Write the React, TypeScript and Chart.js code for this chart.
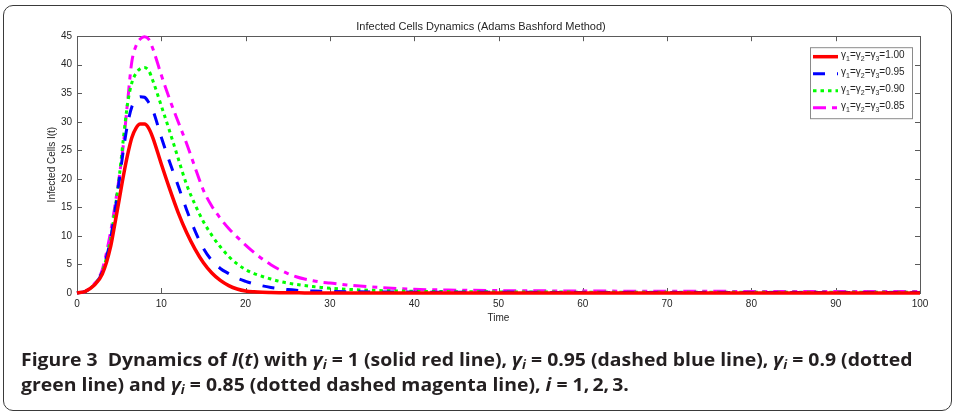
import React, { useEffect, useLayoutEffect, useRef } from "react";
import { Chart, registerables } from "chart.js";

Chart.register(...registerables);

// ---- data ----
const TIME = [
  0, 1, 2, 3, 4, 4.5, 5, 5.5, 6, 6.5, 7, 7.5, 8, 8.5, 9,
  10, 11, 12, 13, 14, 15, 16, 17, 18, 19, 20, 21, 22, 23, 24, 25, 26, 27, 28, 29, 30,
  32, 35, 40, 45, 50, 60, 70, 80, 90, 100,
];

const I_G100 = [
  0, 0.3, 1.3, 3.3, 8.2, 12.2, 16.3, 20.5, 24.2, 27.2, 28.9, 29.6, 29.6, 28.9, 27.2,
  22.6, 18.2, 14.1, 10.6, 7.7, 5.3, 3.5, 2.2, 1.3, 0.7, 0.35, 0.2, 0.12, 0.08, 0.05, 0.04, 0.03, 0.02, 0.02, 0.01, 0.01,
  0.01, 0, 0, 0, 0, 0, 0, 0, 0, 0,
];

const I_G095 = [
  0, 0.3, 1.4, 3.7, 9.6, 14.2, 19.6, 25, 29.6, 32.6, 33.9, 34.4, 34.3, 33.4, 32,
  27.3, 22.9, 18.8, 14.6, 10.9, 7.8, 5.7, 4.3, 3.4, 2.6, 2.05, 1.6, 1.25, 0.97, 0.76, 0.6, 0.48, 0.4, 0.34, 0.3, 0.27,
  0.23, 0.19, 0.15, 0.13, 0.12, 0.1, 0.1, 0.1, 0.1, 0.1,
];

const I_G090 = [
  0, 0.3, 1.4, 3.7, 9.6, 14.5, 20.2, 27, 33.2, 36.8, 38.5, 39.3, 39.5, 39.0, 37.2,
  32.8, 28.3, 23.6, 19.0, 15.5, 12.5, 10.1, 8.1, 6.4, 5.1, 4.1, 3.4, 2.9, 2.45, 2.05, 1.75, 1.5, 1.3, 1.12, 0.97, 0.85,
  0.65, 0.46, 0.3, 0.23, 0.19, 0.15, 0.14, 0.13, 0.13, 0.12,
];

const I_G085 = [
  0, 0.3, 1.5, 4.1, 10.8, 15.3, 20.2, 26, 33.5, 40.5, 43.3, 44.5, 44.9, 44.5, 42.8,
  38.2, 33.9, 30.0, 26.2, 22.0, 18.0, 15.2, 13.1, 11.3, 9.8, 8.4, 7.1, 5.95, 4.95, 4.1, 3.4, 2.85, 2.45, 2.15, 1.9, 1.75,
  1.4, 1.05, 0.65, 0.5, 0.42, 0.35, 0.3, 0.28, 0.26, 0.25,
];

const SERIES_LABELS = [
  "γ₁=γ₂=γ₃=1.00",
  "γ₁=γ₂=γ₃=0.95",
  "γ₁=γ₂=γ₃=0.90",
  "γ₁=γ₂=γ₃=0.85",
];

const CHART_TITLE = "Infected Cells Dynamics (Adams Bashford Method)";
const X_TITLE = "Time";
const Y_TITLE = "Infected Cells I(t)";
const X_MIN = 0, X_MAX = 100, X_STEP = 10;
const Y_MIN = 0, Y_MAX = 45, Y_STEP = 5;

const SANS = '"Liberation Sans", Arial, Helvetica, sans-serif';
const AXIS_COLOR = "#262626";

const SUBS: Record<string, string> = { "₀": "0", "₁": "1", "₂": "2", "₃": "3", "₄": "4", "₅": "5", "₆": "6", "₇": "7", "₈": "8", "₉": "9" };

function drawRich(ctx: CanvasRenderingContext2D, text: string, x: number, y: number) {
  let cx = x;
  for (const ch of Array.from(text)) {
    if (SUBS[ch]) {
      ctx.font = `7px ${SANS}`;
      ctx.fillText(SUBS[ch], cx, y + 3);
      cx += ctx.measureText(SUBS[ch]).width;
    } else {
      ctx.font = `10px ${SANS}`;
      ctx.fillText(ch, cx, y);
      cx += ctx.measureText(ch).width;
    }
  }
}

const boxPlugin = {
  id: "matlabBox",
  beforeDatasetsDraw(chart: any) {
    const { ctx, chartArea: a, scales } = chart;
    ctx.save();
    ctx.strokeStyle = "#5a5a5a";
    ctx.lineWidth = 1;
    ctx.strokeRect(Math.round(a.left) + 0.5, Math.round(a.top) + 0.5, Math.round(a.right - a.left), Math.round(a.bottom - a.top));
    const L = 5;
    ctx.beginPath();
    scales.x.ticks.forEach((_: any, i: number) => {
      const px = Math.round(scales.x.getPixelForTick(i)) + 0.5;
      ctx.moveTo(px, a.bottom); ctx.lineTo(px, a.bottom - L);
      ctx.moveTo(px, a.top); ctx.lineTo(px, a.top + L);
    });
    scales.y.ticks.forEach((_: any, i: number) => {
      const py = Math.round(scales.y.getPixelForTick(i)) + 0.5;
      ctx.moveTo(a.left, py); ctx.lineTo(a.left + L, py);
      ctx.moveTo(a.right, py); ctx.lineTo(a.right - L, py);
    });
    ctx.stroke();
    ctx.restore();
  },
};

const legendPlugin = {
  id: "insideLegend",
  afterDatasetsDraw(chart: any) {
    const { ctx, chartArea: a } = chart;
    const ds = chart.data.datasets;
    const right = a.right - 8;
    const left = right - 102;
    const top = a.top + 11;
    const rowH = 17;
    const h = rowH * ds.length + 3;
    ctx.save();
    ctx.fillStyle = "#ffffff";
    ctx.fillRect(left, top, right - left, h);
    ctx.strokeStyle = "#8a8a8a";
    ctx.lineWidth = 1;
    ctx.strokeRect(left + 0.5, top + 0.5, right - left, h);
    ctx.textBaseline = "middle";
    ds.forEach((d: any, i: number) => {
      const y = top + 9.5 + i * rowH;
      ctx.beginPath();
      ctx.strokeStyle = d.borderColor;
      ctx.lineWidth = d.borderWidth;
      ctx.setLineDash(d.borderDash || []);
      ctx.lineCap = "butt";
      ctx.moveTo(left + 3, y);
      ctx.lineTo(left + 28, y);
      ctx.stroke();
      ctx.setLineDash([]);
      ctx.fillStyle = AXIS_COLOR;
      drawRich(ctx, d.label, left + 31, y - 1);
    });
    ctx.restore();
  },
};

function ChartView() {
  const ref = useRef<HTMLCanvasElement | null>(null);
  useEffect(() => {
    if (!ref.current) return;
    const mk = (label: string, data: number[], color: string, dash: number[], width: number) => ({
      label,
      data: TIME.map((t, i) => ({ x: t, y: data[i] })),
      borderColor: color,
      backgroundColor: color,
      borderWidth: width,
      borderDash: dash,
      borderCapStyle: "butt",
      pointRadius: 0,
      cubicInterpolationMode: "monotone",
      fill: false,
      clip: 6,
    });
    const chart = new Chart(ref.current, {
      type: "line",
      data: {
        datasets: [
          mk(SERIES_LABELS[0], I_G100, "#ff0000", [], 3.5),
          mk(SERIES_LABELS[1], I_G095, "#0000ff", [12, 12], 3),
          mk(SERIES_LABELS[2], I_G090, "#00ff00", [3.5, 4], 3),
          mk(SERIES_LABELS[3], I_G085, "#ff00ff", [13, 6, 5, 6], 3),
        ] as any,
      },
      options: {
        animation: false,
        responsive: false,
        devicePixelRatio: 1,
        layout: { padding: { left: 42, right: 35, top: 0, bottom: 0 } },
        plugins: {
          legend: { display: false },
          tooltip: { enabled: false },
          title: {
            display: true,
            text: CHART_TITLE,
            color: AXIS_COLOR,
            font: { family: SANS, size: 11, weight: "normal" as any, lineHeight: 1.2 },
            padding: { top: 20, bottom: 3 },
          },
        },
        scales: {
          x: {
            type: "linear",
            min: X_MIN,
            max: X_MAX,
            grid: { display: false, drawTicks: false },
            border: { display: false },
            ticks: { stepSize: X_STEP, padding: 5, color: AXIS_COLOR, font: { family: SANS, size: 10 }, maxRotation: 0 },
            title: { display: true, text: X_TITLE, color: AXIS_COLOR, font: { family: SANS, size: 10 }, padding: { top: 2, bottom: 4 } },
            afterFit: (s: any) => { s.height = 35; },
          },
          y: {
            min: Y_MIN,
            max: Y_MAX,
            grid: { display: false, drawTicks: false },
            border: { display: false },
            ticks: { stepSize: Y_STEP, padding: 5, color: AXIS_COLOR, font: { family: SANS, size: 10 } },
            title: { display: true, text: Y_TITLE, color: AXIS_COLOR, font: { family: SANS, size: 10 }, padding: { top: 4, bottom: 2 } },
            afterFit: (s: any) => { s.width = 35; },
          },
        },
      } as any,
      plugins: [boxPlugin, legendPlugin],
    });
    return () => chart.destroy();
  }, []);
  return <canvas ref={ref} width={955} height={328} style={{ display: "block", width: 955, height: 328 }} />;
}

const subStyle: React.CSSProperties = { fontSize: "0.68em", verticalAlign: "-0.28em", lineHeight: 0 };

function Caption() {
  const l1 = useRef<HTMLSpanElement | null>(null);
  const l2 = useRef<HTMLSpanElement | null>(null);
  useLayoutEffect(() => {
    const fit = () => {
      if (!l1.current || !l2.current) return;
      l1.current.style.transform = "none";
      l2.current.style.transform = "none";
      const w = l1.current.offsetWidth;
      const s = w > 0 ? 891 / w : 1;
      l1.current.style.transform = `scaleX(${s})`;
      l2.current.style.transform = `scaleX(${s})`;
    };
    fit();
    (document as any).fonts?.ready?.then(fit);
  }, []);
  const g = (
    <i>
      γ<sub style={subStyle}>i</sub>
    </i>
  );
  const lineStyle: React.CSSProperties = { display: "inline-block", transformOrigin: "0 0", whiteSpace: "nowrap" };
  return (
    <div
      style={{
        position: "absolute",
        left: 21,
        top: 347,
        fontFamily: '"Open Sans", "Noto Sans", sans-serif',
        fontWeight: 700,
        fontSize: 18,
        lineHeight: "25px",
        color: "#231f20",
        whiteSpace: "nowrap",
      }}
    >
      <span ref={l1} style={lineStyle}>
        Figure 3&nbsp; Dynamics of <i>I</i>(<i>t</i>) with {g} = 1 (solid red line), {g} = 0.95 (dashed blue line), {g} = 0.9 (dotted
      </span>
      <br />
      <span ref={l2} style={lineStyle}>
        green line) and {g} = 0.85 (dotted dashed magenta line), <i>i</i> = 1,&#8201;2,&#8201;3.
      </span>
    </div>
  );
}

export default function App() {
  return (
    <div style={{ position: "absolute", left: 0, top: 0, width: 955, height: 414, background: "#fff", overflow: "hidden" }}>
      <ChartView />
      <div
        style={{
          position: "absolute",
          left: 3,
          top: 5,
          width: 949,
          height: 406,
          boxSizing: "border-box",
          border: "1.5px solid #3a3a3a",
          borderRadius: 10,
          pointerEvents: "none",
        }}
      />
      <Caption />
    </div>
  );
}
